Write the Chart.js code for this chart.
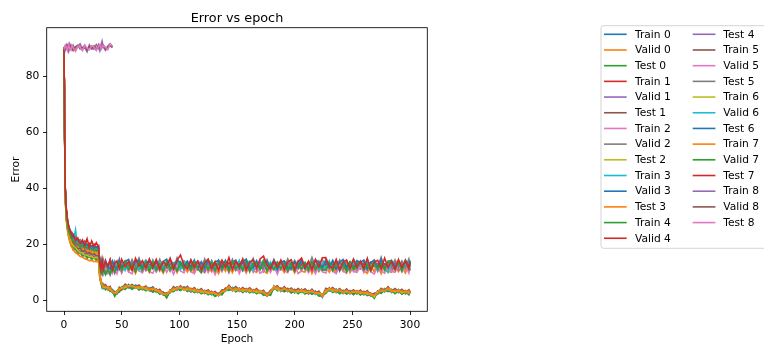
<!DOCTYPE html>
<html>
<head>
<meta charset="utf-8">
<script src="https://cdn.jsdelivr.net/npm/chart.js@4.4.1/dist/chart.umd.min.js"></script>
<style>
  html, body { margin: 0; padding: 0; background: #fff; }
  #chart { display: block; }
</style>
</head>
<body>
<canvas id="chart" width="764" height="348"></canvas>
<script>
const epochs = [0, 1, 2, 3, 4, 5, 6, 7, 8,
  10, 12, 14, 16, 18, 20, 22, 24, 26, 28, 30,
  31, 32, 33, 34,
  36, 38, 40, 42, 44, 46, 48, 50,
  53, 56, 59, 62, 65, 68, 71, 74, 77, 80, 83, 86, 89, 92, 95, 98, 101, 104, 107, 110,
  113, 116, 119, 122, 125, 128, 131, 134, 137, 140, 143, 146, 149, 152, 155, 158, 161, 164, 167, 170,
  173, 176, 179, 182, 185, 188, 191, 194, 197, 200, 203, 206, 209, 212, 215, 218, 221, 224, 227, 230,
  233, 236, 239, 242, 245, 248, 251, 254, 257, 260, 263, 266, 269, 272, 275, 278, 281, 284, 287, 290,
  293, 296, 299, 300];

const xTicks = [0, 50, 100, 150, 200, 250, 300];
const yTicks = [0, 20, 40, 60, 80];
const runNames = ['Train', 'Valid', 'Test'];
const colors = ['#1f77b4', '#ff7f0e', '#2ca02c', '#d62728', '#9467bd',
  '#8c564b', '#e377c2', '#7f7f7f', '#bcbd22', '#17becf'];

// ---- run 0 ----
const train0 = [90.1, 38.2, 30.1, 26.4, 24.3, 22.1, 21.2, 19.4, 20.1, 18.2, 18.9, 16.8, 17.6, 16.1, 17.0, 15.5, 16.4, 15.2, 16.0, 15.1,
  9.6, 6.0, 5.9, 4.3, 5.4, 4.0, 4.6, 2.7, 2.4, 3.5,
  3.2, 4.8, 3.9, 5.7, 4.4, 5.4, 3.8, 4.7, 4.9, 3.5,
  4.3, 2.9, 3.6, 1.9, 2.2, 2.7, 4.6, 3.6, 4.9, 3.7,
  4.5, 3.0, 4.2, 2.8, 3.8, 2.4, 3.4, 2.0, 2.7, 1.6,
  3.4, 3.2, 5.0, 3.4, 4.5, 3.2, 4.1, 3.0, 4.1, 2.8,
  3.8, 2.5, 3.1, 1.5, 3.2, 4.0, 4.8, 3.2, 4.5, 3.1,
  4.0, 2.7, 3.8, 2.9, 3.7, 2.3, 3.6, 2.1, 2.9, 1.1,
  3.9, 3.3, 4.2, 2.8, 3.8, 2.4, 3.7, 2.3, 3.4, 2.3,
  3.3, 2.0, 3.1, 1.5, 2.0, 2.2, 3.9, 3.0, 4.5, 2.8,
  3.8, 2.7, 3.6, 2.3, 3.4, 2.4];
const valid0 = [89.4, 39.5, 31.2, 27.6, 25.0, 23.8, 21.9, 22.8, 20.6, 21.3, 19.1, 20.2, 18.3, 19.4, 17.8, 18.9, 17.5, 18.6, 17.2, 18.0,
  12.1, 11.4, 10.6, 11.8, 10.9, 12.3, 10.4, 11.7, 12.6, 10.8,
  11.9, 13.2, 11.1, 12.4, 10.7, 11.6, 13.0, 11.3, 12.2, 10.9,
  12.7, 11.5, 13.4, 11.0, 12.1, 10.6, 12.9, 11.8, 12.4, 11.2,
  13.1, 10.8, 11.9, 12.5, 11.3, 12.8, 10.5, 12.0, 11.6, 13.3,
  11.4, 12.6, 10.9, 12.2, 11.7, 13.0, 11.1, 12.4, 10.7, 11.9,
  12.8, 11.3, 12.0, 10.6, 12.5, 11.8, 13.2, 11.0, 12.3, 11.5,
  12.9, 10.8, 12.1, 11.6, 13.1, 11.2, 12.4, 10.4, 11.9, 12.7,
  11.3, 12.5, 10.9, 12.8, 11.6, 12.2, 10.7, 12.9, 11.4, 12.0,
  13.0, 11.1, 12.3, 11.8, 10.6, 12.7, 11.5, 12.1, 10.9, 12.6,
  11.7, 12.4, 11.0, 12.9, 11.3, 12.0];
const test0 = [90.2, 40.1, 31.8, 28.0, 25.9, 24.2, 23.1, 21.7, 22.4, 20.3, 21.0, 19.2, 20.1, 18.6, 19.5, 18.2, 19.0, 17.9, 18.7, 18.1,
  11.2, 10.1, 9.6, 10.4, 9.8, 10.9, 10.2, 11.1, 10.5, 11.6,
  12.4, 11.1, 12.9, 11.7, 12.2, 10.8, 13.1, 12.0, 11.4, 12.7,
  11.3, 12.8, 11.9, 13.3, 11.5, 12.2, 10.9, 12.6, 11.8, 13.0,
  11.6, 12.3, 10.7, 12.9, 11.4, 12.1, 13.4, 11.2, 12.5, 11.0,
  12.6, 11.8, 13.2, 11.5, 12.0, 10.9, 12.7, 11.6, 13.1, 11.9,
  11.1, 12.4, 11.7, 13.0, 11.3, 12.6, 10.8, 12.2, 11.9, 13.3,
  12.0, 11.4, 12.8, 11.1, 12.3, 13.0, 11.6, 12.5, 10.9, 12.1,
  13.2, 11.7, 12.4, 11.0, 12.9, 11.5, 13.1, 11.8, 12.3, 10.8,
  12.2, 13.5, 11.3, 12.0, 12.8, 11.2, 12.6, 11.9, 13.3, 11.4,
  12.7, 11.1, 12.9, 11.6, 12.3, 14.2];

// ---- run 1 ----
const train1 = [89.6, 37.6, 29.4, 25.8, 23.5, 21.4, 20.5, 19.9, 18.6, 19.1, 17.2, 17.9, 16.3, 17.0, 15.6, 16.5, 15.0, 15.9, 14.7, 15.4,
  8.4, 7.0, 5.0, 5.6, 4.1, 4.9, 3.5, 3.8, 1.7, 3.3,
  4.4, 3.7, 5.4, 4.4, 5.3, 4.3, 5.1, 3.8, 4.7, 3.5,
  3.2, 4.1, 2.5, 3.0, 1.2, 3.8, 3.3, 4.8, 3.7, 4.8,
  3.4, 4.3, 3.0, 3.9, 2.6, 3.6, 2.2, 3.2, 1.6, 2.6,
  2.3, 4.4, 3.8, 4.6, 3.3, 4.4, 3.0, 4.2, 2.9, 3.9,
  2.6, 3.5, 2.0, 2.6, 2.0, 5.1, 3.6, 4.4, 3.3, 4.3,
  2.8, 3.9, 2.6, 4.0, 2.5, 3.5, 2.4, 3.3, 1.7, 2.2,
  2.7, 4.5, 3.0, 4.0, 2.6, 3.6, 2.5, 3.5, 2.2, 3.5,
  2.1, 3.2, 1.9, 2.6, 0.9, 3.4, 2.7, 4.2, 3.3, 4.0,
  2.6, 3.9, 2.4, 3.5, 2.2, 3.5];
const valid1 = [89.8, 39.9, 31.5, 27.2, 25.6, 23.1, 24.0, 21.6, 22.2, 20.1, 21.4, 19.0, 20.3, 18.5, 19.7, 18.1, 19.2, 17.8, 18.9, 17.6,
  10.8, 9.7, 10.3, 9.4, 10.6, 9.9, 11.2, 10.1, 10.7, 11.4,
  10.9, 12.1, 11.3, 12.6, 10.8, 11.9, 11.2, 12.4, 10.6, 11.8,
  12.3, 11.0, 11.7, 10.4, 12.5, 11.3, 12.0, 10.9, 11.6, 12.8,
  11.1, 12.2, 10.7, 11.9, 12.6, 11.0, 11.8, 10.5, 12.3, 11.4,
  12.0, 10.8, 12.4, 11.5, 10.9, 12.7, 11.2, 12.1, 11.6, 10.6,
  11.9, 12.5, 11.1, 12.2, 10.7, 11.8, 12.4, 11.0, 12.9, 11.3,
  10.9, 12.0, 11.5, 12.7, 11.2, 10.6, 12.3, 11.7, 12.0, 10.8,
  12.4, 11.3, 11.9, 12.8, 11.0, 12.1, 11.4, 10.7, 12.5, 11.6,
  11.2, 12.3, 10.5, 11.8, 12.6, 11.1, 12.0, 11.5, 10.9, 12.2,
  11.6, 10.8, 12.3, 11.4, 12.1, 11.7];
const test1 = [90.0, 40.6, 32.3, 28.5, 26.1, 24.7, 22.8, 23.3, 21.5, 21.9, 20.2, 21.0, 19.3, 20.4, 18.8, 19.9, 18.4, 19.6, 18.2, 19.0,
  13.0, 12.2, 11.5, 12.7, 11.9, 12.9, 11.4, 12.6, 13.3, 11.8,
  12.9, 11.6, 13.4, 12.1, 12.8, 11.3, 12.5, 13.6, 11.9, 12.7,
  12.0, 13.3, 11.7, 12.6, 13.0, 11.5, 12.8, 12.2, 13.5, 11.9,
  12.5, 13.1, 11.6, 12.9, 12.3, 13.4, 11.8, 12.4, 13.0, 12.1,
  13.2, 11.9, 12.6, 13.3, 11.7, 12.8, 12.1, 13.5, 11.8, 12.7,
  12.2, 13.0, 11.6, 12.5, 13.3, 11.9, 12.7, 12.0, 13.4, 12.3,
  11.8, 12.9, 12.4, 13.1, 11.6, 12.7, 13.2, 12.0, 12.6, 11.7,
  13.0, 12.3, 13.5, 11.9, 12.4, 12.9, 11.8, 13.2, 12.5, 12.1,
  12.8, 11.7, 13.1, 12.4, 12.9, 11.6, 13.3, 12.2, 12.7, 11.9,
  13.2, 12.5, 12.0, 13.1, 12.4, 12.8];

// ---- run 2 ----
const train2 = [90.4, 38.8, 30.5, 26.9, 24.0, 22.6, 20.9, 21.1, 19.2, 19.8, 17.7, 18.4, 16.6, 17.5, 16.2, 16.8, 15.6, 16.5, 15.3, 15.8,
  9.3, 6.3, 6.1, 4.6, 4.9, 3.7, 4.5, 3.0, 2.8, 2.3,
  4.3, 4.0, 5.3, 4.5, 5.4, 4.4, 5.0, 3.9, 4.8, 3.6,
  4.4, 3.1, 3.5, 2.1, 2.3, 2.8, 4.4, 3.7, 4.8, 3.8,
  4.6, 3.3, 4.1, 2.9, 3.7, 2.6, 3.3, 2.2, 2.7, 1.8,
  3.3, 3.4, 4.9, 3.6, 4.4, 3.3, 4.1, 3.2, 4.0, 3.0,
  3.7, 2.6, 3.1, 1.7, 3.0, 4.1, 4.7, 3.4, 4.4, 3.3,
  3.9, 2.9, 3.7, 3.0, 3.6, 2.5, 3.5, 2.3, 2.8, 1.3,
  3.8, 3.5, 4.1, 3.0, 3.7, 2.6, 3.6, 2.5, 3.3, 2.5,
  3.2, 2.2, 3.0, 1.7, 1.9, 2.4, 3.8, 3.2, 4.4, 3.0,
  3.7, 2.9, 3.5, 2.5, 3.3, 2.6];
const valid2 = [89.5, 40.3, 31.9, 28.3, 25.4, 24.5, 23.0, 22.1, 21.8, 21.1, 20.6, 19.8, 20.5, 19.1, 19.6, 18.7, 19.3, 18.3, 18.9, 18.5,
  13.4, 12.6, 13.9, 12.1, 13.2, 12.8, 14.0, 12.5, 13.1, 12.2,
  13.6, 12.4, 14.2, 12.9, 13.3, 12.0, 13.8, 12.7, 14.4, 12.3,
  13.1, 14.0, 12.5, 13.5, 12.2, 14.6, 12.8, 13.3, 12.1, 13.9,
  12.6, 13.7, 12.3, 14.1, 12.9, 13.4, 12.0, 13.8, 12.7, 13.2,
  14.3, 12.5, 13.6, 12.2, 13.9, 12.8, 14.1, 12.4, 13.3, 12.9,
  13.7, 12.1, 14.5, 12.6, 13.2, 12.9, 13.8, 12.3, 14.0, 12.7,
  13.3, 12.4, 14.2, 12.8, 13.6, 12.0, 13.9, 12.5, 13.1, 14.4,
  12.6, 13.5, 12.2, 14.0, 12.9, 13.4, 12.1, 13.7, 12.8, 14.2,
  12.4, 13.8, 12.7, 13.2, 14.5, 12.3, 13.6, 12.9, 13.1, 12.5,
  13.9, 12.6, 13.4, 12.2, 14.1, 13.0];
const test2 = [90.1, 39.2, 30.8, 27.4, 25.2, 23.2, 22.5, 20.9, 21.2, 19.7, 20.4, 18.7, 19.5, 18.1, 18.9, 17.7, 18.5, 17.4, 18.3, 17.6,
  12.3, 11.1, 11.8, 10.5, 12.4, 11.6, 12.9, 11.0, 12.2, 11.5,
  12.7, 11.3, 12.0, 13.1, 11.5, 12.6, 11.2, 12.3, 13.0, 11.7,
  12.4, 11.1, 12.9, 11.6, 13.2, 12.0, 11.4, 12.8, 11.9, 12.5,
  11.3, 12.6, 12.1, 13.0, 11.5, 12.4, 11.8, 12.9, 11.2, 12.2,
  12.8, 11.6, 12.3, 11.0, 12.7, 12.1, 13.1, 11.4, 12.5, 11.9,
  12.4, 11.2, 12.9, 11.7, 12.2, 13.0, 11.5, 12.6, 11.1, 12.3,
  11.9, 12.7, 11.3, 12.5, 11.8, 13.2, 12.1, 11.4, 12.8, 11.6,
  12.2, 11.5, 12.9, 12.0, 11.3, 12.6, 11.9, 13.1, 11.6, 12.4,
  11.8, 12.5, 11.2, 13.0, 11.7, 12.3, 11.4, 12.8, 12.1, 11.5,
  12.6, 11.9, 12.4, 11.3, 12.7, 12.0];

// ---- run 3 ----
const train3 = [89.2, 37.9, 30.3, 26.1, 24.8, 23.6, 21.5, 22.3, 20.8, 25.2, 18.6, 19.4, 17.1, 18.0, 16.4, 17.3, 15.9, 16.8, 15.5, 16.2,
  10.0, 6.1, 5.2, 5.9, 5.1, 3.8, 3.7, 3.9, 2.7, 2.3,
  3.5, 4.9, 5.2, 4.5, 4.4, 5.5, 5.0, 3.9, 3.8, 4.6,
  4.3, 3.2, 2.6, 2.9, 1.4, 3.1, 4.4, 4.6, 3.8, 4.7,
  4.4, 3.2, 3.3, 3.9, 2.7, 3.5, 3.3, 2.2, 2.0, 2.6,
  3.3, 3.5, 4.2, 4.6, 3.3, 4.3, 3.1, 3.4, 4.0, 3.0,
  3.6, 3.4, 2.2, 2.4, 2.3, 4.3, 4.7, 3.4, 4.2, 4.0,
  3.0, 3.7, 3.5, 2.9, 3.6, 3.3, 2.5, 3.2, 2.0, 1.4,
  3.8, 3.5, 3.2, 4.0, 2.8, 3.5, 2.6, 3.3, 3.2, 2.4,
  3.2, 2.3, 2.9, 1.6, 1.9, 3.1, 2.9, 4.2, 3.6, 3.8,
  2.8, 3.7, 3.3, 2.5, 3.2, 2.6];
const valid3 = [89.7, 40.0, 31.6, 27.9, 24.9, 24.0, 22.6, 23.0, 21.0, 21.6, 20.0, 20.7, 19.2, 20.0, 18.6, 19.4, 18.2, 19.0, 17.9, 18.6,
  12.9, 11.8, 13.5, 12.2, 11.6, 12.8, 13.3, 12.0, 12.7, 11.9,
  13.4, 12.3, 13.0, 11.9, 13.7, 12.5, 12.1, 13.2, 12.6, 13.8,
  12.2, 13.1, 12.7, 13.6, 11.8, 12.9, 13.4, 12.3, 13.0, 12.4,
  13.5, 12.1, 12.8, 13.3, 12.0, 13.7, 12.5, 11.9, 13.2, 12.6,
  12.3, 13.4, 12.0, 12.9, 13.6, 12.4, 13.1, 11.8, 12.7, 13.3,
  12.8, 12.1, 13.5, 12.6, 11.9, 13.2, 12.4, 13.8, 12.2, 12.9,
  13.1, 12.5, 11.8, 13.4, 12.7, 12.1, 13.6, 12.3, 13.0, 12.6,
  12.4, 13.3, 12.8, 11.9, 13.5, 12.2, 12.9, 13.4, 12.1, 12.7,
  13.2, 12.0, 12.6, 13.7, 12.3, 12.8, 11.9, 13.1, 12.5, 13.4,
  12.2, 13.0, 12.7, 13.3, 12.4, 12.8];
const test3 = [89.3, 38.9, 30.6, 26.7, 24.5, 22.9, 21.4, 21.9, 19.9, 20.2, 18.6, 19.0, 17.8, 18.3, 17.2, 17.8, 16.9, 17.5, 16.6, 17.2,
  12.2, 10.3, 12.6, 9.7, 11.9, 9.9, 12.5, 9.8, 12.0, 10.1,
  12.4, 9.8, 12.9, 10.3, 12.3, 9.6, 12.7, 10.4, 12.2, 10.0,
  12.8, 10.2, 12.1, 9.7, 12.5, 10.3, 13.0, 9.9, 12.2, 12.6,
  10.1, 12.3, 9.7, 12.7, 10.5, 10.0, 12.6, 10.2, 12.1, 9.6,
  12.5, 10.4, 12.9, 9.9, 12.2, 10.2, 12.4, 9.8, 12.8, 10.6,
  10.0, 12.6, 10.5, 9.7, 12.3, 12.7, 10.1, 12.0, 9.9, 12.5,
  12.1, 9.8, 12.6, 10.4, 10.1, 12.8, 9.6, 12.3, 10.2, 12.2,
  12.7, 10.0, 12.0, 9.8, 12.5, 10.3, 12.9, 9.9, 12.1, 10.2,
  12.4, 10.5, 9.7, 12.6, 10.1, 12.2, 9.5, 12.5, 10.4, 10.0,
  12.3, 10.2, 12.0, 9.8, 12.6, 10.5];

// ---- run 4 ----
const train4 = [89.9, 37.3, 29.0, 25.5, 22.9, 21.8, 19.8, 20.4, 18.1, 18.6, 16.5, 17.3, 15.6, 16.4, 15.0, 15.8, 14.6, 15.2, 14.3, 14.9,
  8.1, 6.6, 4.6, 5.2, 3.8, 4.5, 3.2, 3.5, 1.5, 2.9,
  3.0, 4.4, 4.0, 5.1, 3.9, 5.0, 3.7, 4.5, 3.4, 4.1,
  2.9, 3.6, 2.2, 2.7, 0.9, 3.3, 3.1, 4.3, 3.5, 4.3,
  3.2, 3.8, 2.8, 3.4, 2.4, 3.1, 2.0, 2.7, 1.4, 2.2,
  2.0, 3.9, 3.6, 4.1, 3.1, 3.9, 2.8, 3.8, 2.7, 3.5,
  2.4, 3.1, 1.8, 2.1, 1.8, 4.7, 3.4, 3.9, 3.1, 3.8,
  2.6, 3.4, 2.4, 3.5, 2.3, 3.0, 2.2, 2.8, 1.5, 1.7,
  2.5, 4.0, 2.8, 3.5, 2.4, 3.1, 2.3, 3.0, 2.0, 3.0,
  1.9, 2.7, 1.7, 2.1, 0.8, 2.9, 2.5, 3.7, 3.1, 3.5,
  2.4, 3.4, 2.2, 3.0, 2.0, 3.0];
const valid4 = [90.3, 41.0, 32.6, 28.8, 26.5, 25.1, 23.7, 24.1, 22.3, 22.6, 21.0, 21.6, 20.1, 21.2, 19.5, 20.4, 19.1, 20.0, 18.8, 19.6,
  12.8, 12.0, 13.4, 11.7, 12.9, 11.5, 13.1, 12.3, 11.8, 13.2,
  12.1, 13.3, 11.9, 12.7, 13.5, 11.6, 12.8, 12.2, 13.4, 11.9,
  12.6, 13.1, 12.0, 13.6, 11.8, 12.9, 12.3, 13.2, 11.7, 12.8,
  13.3, 11.9, 12.6, 12.1, 13.5, 12.4, 11.8, 13.0, 12.5, 11.7,
  12.9, 12.2, 13.4, 11.9, 12.7, 13.2, 12.0, 12.8, 13.5, 12.3,
  11.8, 13.1, 12.4, 12.9, 11.6, 13.3, 12.2, 12.7, 11.9, 13.0,
  12.5, 13.4, 11.8, 12.6, 13.1, 12.0, 12.9, 11.7, 13.3, 12.4,
  12.8, 11.9, 13.2, 12.3, 12.7, 13.5, 12.1, 12.6, 11.8, 13.1,
  12.0, 12.9, 13.4, 11.9, 12.5, 13.0, 12.2, 12.8, 11.7, 13.2,
  12.4, 13.0, 12.1, 12.9, 12.3, 12.7];
const test4 = [89.6, 39.7, 31.0, 27.5, 25.3, 23.5, 22.9, 21.3, 21.6, 20.5, 19.7, 20.0, 18.9, 19.2, 18.3, 18.8, 17.9, 18.4, 17.6, 18.1,
  11.9, 9.7, 9.1, 11.4, 9.3, 11.0, 9.0, 11.5, 9.6, 12.0,
  13.0, 10.3, 13.3, 10.9, 13.7, 10.6, 12.8, 10.1, 13.2, 11.0,
  13.6, 10.7, 12.9, 10.3, 13.4, 11.1, 13.1, 10.5, 13.7, 10.8,
  12.8, 10.6, 13.5, 10.9, 13.0, 10.2, 13.3, 11.1, 10.7, 13.4,
  10.4, 13.1, 11.0, 13.6, 10.7, 12.8, 10.5, 13.3, 11.2, 13.0,
  10.8, 13.5, 10.3, 12.9, 11.1, 13.2, 10.6, 13.6, 10.9, 12.8,
  13.1, 10.5, 13.4, 11.0, 12.9, 10.7, 13.7, 10.4, 13.2, 11.1,
  10.9, 13.0, 10.6, 13.5, 11.2, 12.8, 10.8, 13.2, 10.5, 13.4,
  12.9, 10.7, 13.6, 11.0, 13.1, 10.3, 13.3, 11.2, 13.0, 10.6,
  12.8, 10.9, 13.2, 11.1, 13.0, 10.8];

// ---- run 5 ----
const train5 = [90.3, 38.5, 30.9, 27.2, 24.6, 23.0, 21.8, 20.7, 20.9, 19.4, 18.3, 18.8, 17.4, 17.9, 16.7, 17.1, 16.3, 16.6, 15.9, 16.3,
  10.2, 6.6, 6.4, 4.9, 5.6, 4.2, 5.0, 3.1, 3.2, 2.7,
  4.7, 4.2, 5.8, 4.9, 5.7, 4.8, 5.5, 4.3, 5.1, 3.9,
  4.8, 3.4, 4.0, 2.4, 2.7, 3.1, 4.9, 4.1, 5.2, 4.1,
  5.0, 3.6, 4.6, 3.2, 4.2, 2.9, 3.8, 2.5, 3.2, 2.0,
  3.8, 3.7, 5.4, 3.9, 4.9, 3.7, 4.6, 3.6, 4.5, 3.3,
  4.2, 2.9, 3.6, 1.9, 3.6, 4.5, 5.2, 3.7, 4.9, 3.6,
  4.4, 3.2, 4.2, 3.3, 4.1, 2.8, 4.0, 2.6, 3.3, 1.5,
  4.3, 3.8, 4.6, 3.3, 4.2, 2.9, 4.1, 2.8, 3.8, 2.8,
  3.7, 2.5, 3.5, 1.9, 2.5, 2.7, 4.3, 3.5, 4.9, 3.3,
  4.2, 3.2, 4.0, 2.8, 3.8, 2.8];
const valid5 = [89.9, 39.4, 31.3, 27.7, 25.5, 24.4, 22.7, 22.5, 21.4, 20.9, 20.1, 19.6, 19.8, 18.8, 19.0, 18.4, 18.6, 17.9, 18.3, 17.7,
  12.6, 9.9, 12.3, 9.4, 12.5, 9.8, 12.0, 10.1, 12.7, 9.6,
  12.4, 9.8, 12.9, 10.2, 9.5, 12.7, 10.5, 9.9, 13.1, 10.3,
  9.7, 12.6, 10.4, 13.2, 10.0, 12.3, 9.3, 12.7, 10.5, 9.8,
  12.8, 10.2, 9.6, 12.5, 10.1, 13.0, 9.9, 12.2, 9.2, 12.4,
  10.4, 12.9, 9.8, 12.3, 12.7, 9.6, 12.6, 10.2, 12.8, 10.0,
  12.5, 9.7, 10.5, 13.0, 10.0, 12.3, 9.4, 12.6, 10.6, 9.9,
  12.4, 12.7, 9.6, 10.5, 12.9, 9.9, 12.3, 9.5, 12.5, 10.2,
  9.8, 12.6, 10.4, 9.6, 12.7, 10.5, 9.7, 12.8, 10.3, 10.0,
  12.3, 9.9, 13.0, 10.2, 9.4, 12.5, 10.6, 9.7, 12.7, 10.4,
  10.0, 12.4, 10.1, 12.6, 9.8, 12.2];
const test5 = [90.2, 40.4, 32.0, 28.2, 25.8, 24.8, 23.4, 22.6, 22.9, 21.4, 20.8, 20.3, 19.6, 20.0, 19.1, 19.3, 18.7, 19.0, 18.5, 18.8,
  12.0, 14.3, 11.4, 14.7, 12.2, 11.6, 14.5, 11.3, 14.0, 12.1,
  14.9, 11.7, 13.9, 11.5, 14.6, 12.0, 15.1, 11.6, 13.8, 11.8,
  14.4, 11.4, 14.7, 12.1, 11.7, 14.3, 11.3, 15.2, 11.9, 14.1,
  11.6, 14.5, 12.0, 14.0, 11.4, 14.8, 11.8, 14.2, 11.2, 14.4,
  12.1, 14.3, 11.5, 14.7, 11.9, 13.9, 11.6, 14.5, 12.0, 15.0,
  11.7, 14.1, 12.1, 14.6, 11.3, 14.3, 12.0, 14.0, 11.5, 14.8,
  11.9, 14.2, 11.4, 14.5, 12.1, 11.7, 15.3, 11.8, 14.1, 11.6,
  14.7, 11.5, 13.9, 11.9, 14.4, 11.3, 14.3, 12.0, 14.8, 11.7,
  14.0, 11.8, 14.6, 11.6, 14.2, 12.1, 15.4, 11.4, 13.9, 11.9,
  14.5, 12.0, 14.1, 11.7, 14.8, 12.1];

// ---- run 6 ----
const train6 = [89.7, 38.0, 29.8, 26.6, 23.8, 22.3, 21.1, 20.0, 19.5, 18.9, 17.8, 17.1, 16.9, 16.2, 16.1, 15.6, 15.8, 15.1, 15.4, 14.9,
  8.7, 6.9, 5.8, 4.7, 4.5, 4.7, 3.8, 3.1, 2.6, 3.4,
  3.9, 4.6, 4.5, 5.3, 5.2, 4.6, 4.4, 4.9, 4.0, 3.8,
  4.2, 3.8, 2.8, 2.3, 2.1, 3.5, 3.6, 4.4, 4.6, 3.8,
  3.8, 4.0, 3.3, 3.6, 2.9, 3.3, 2.5, 2.9, 2.4, 1.8,
  3.1, 3.5, 4.8, 3.7, 3.6, 4.1, 3.3, 3.9, 3.2, 3.7,
  2.9, 3.3, 2.9, 1.8, 2.9, 4.9, 3.9, 3.6, 4.2, 3.5,
  3.7, 3.1, 3.0, 3.7, 2.8, 3.1, 3.3, 2.5, 2.6, 1.9,
  3.0, 4.2, 3.3, 3.7, 3.5, 2.8, 3.3, 2.7, 3.0, 3.2,
  2.5, 2.9, 2.2, 2.3, 1.3, 3.1, 3.5, 3.4, 4.1, 3.6,
  3.0, 3.6, 2.7, 3.2, 2.6, 3.2];
const valid6 = [89.4, 39.6, 31.4, 27.3, 26.0, 25.5, 24.3, 23.4, 23.7, 22.0, 21.2, 21.5, 20.0, 20.6, 19.2, 19.8, 18.8, 19.4, 18.4, 18.9,
  13.4, 10.9, 13.9, 10.6, 13.7, 11.1, 12.5, 14.1, 10.8, 13.5,
  11.2, 14.0, 10.7, 13.6, 11.4, 14.3, 10.9, 13.3, 14.0, 10.8,
  13.8, 10.5, 13.5, 11.3, 14.2, 10.9, 13.4, 14.0, 11.0, 13.3,
  14.0, 10.9, 13.2, 13.8, 10.6, 13.6, 11.2, 14.1, 10.8, 13.7,
  11.4, 13.9, 10.8, 13.5, 11.3, 14.3, 11.0, 13.4, 14.0, 10.9,
  13.6, 11.2, 14.2, 10.7, 13.7, 11.4, 11.0, 13.9, 11.6, 10.8,
  13.8, 10.6, 13.5, 14.0, 10.9, 13.3, 11.1, 14.2, 10.8, 13.4,
  11.3, 14.1, 11.0, 13.6, 10.4, 13.7, 11.5, 10.7, 13.9, 11.2,
  13.5, 10.9, 14.0, 11.1, 13.4, 10.8, 13.9, 11.4, 9.9, 13.7,
  11.2, 13.8, 10.6, 13.5, 11.3, 14.0];
const test6 = [90.0, 40.2, 31.7, 28.1, 25.7, 24.9, 23.5, 22.4, 23.0, 21.8, 21.4, 20.5, 20.6, 19.5, 20.0, 19.0, 19.4, 18.6, 19.1, 18.5,
  13.9, 11.5, 13.7, 11.1, 14.3, 11.8, 11.2, 14.0, 12.0, 11.0,
  14.2, 11.6, 13.9, 14.6, 11.3, 13.7, 14.4, 11.4, 13.6, 14.0,
  11.5, 14.3, 11.2, 13.9, 14.7, 11.7, 11.4, 14.2, 13.7, 11.3,
  14.0, 11.8, 14.4, 11.4, 13.8, 11.6, 14.5, 11.2, 13.7, 14.3,
  11.7, 14.1, 11.1, 13.7, 14.4, 11.5, 13.9, 14.7, 11.4, 11.8,
  14.2, 11.3, 13.6, 14.0, 11.6, 14.5, 11.1, 13.7, 14.1, 11.7,
  11.4, 14.0, 11.8, 14.4, 11.5, 13.8, 11.2, 14.5, 13.6, 11.6,
  14.0, 11.7, 14.3, 11.1, 13.7, 14.6, 11.6, 13.8, 11.3, 14.1,
  13.6, 14.4, 11.2, 13.7, 14.2, 11.6, 14.5, 11.1, 13.8, 14.3,
  11.7, 14.0, 11.4, 14.4, 11.8, 14.2];

// ---- run 7 ----
const train7 = [90.0, 37.1, 28.8, 25.1, 22.6, 21.0, 19.6, 18.8, 18.1, 17.0, 16.6, 15.7, 15.5, 14.9, 14.6, 14.2, 14.3, 13.8, 14.0, 13.6,
  9.1, 6.2, 5.9, 4.8, 5.1, 4.1, 4.5, 3.0, 2.6, 2.7,
  4.3, 4.1, 5.3, 4.9, 5.3, 4.7, 5.0, 4.2, 4.7, 3.8,
  4.3, 3.3, 3.5, 2.3, 2.1, 3.0, 4.4, 4.0, 4.8, 4.0,
  4.5, 3.5, 4.1, 3.1, 3.7, 2.8, 3.3, 2.4, 2.7, 1.9,
  3.3, 3.6, 4.9, 3.8, 4.4, 3.6, 4.1, 3.5, 4.0, 3.2,
  3.7, 2.8, 3.1, 1.8, 3.1, 4.4, 4.7, 3.6, 4.4, 3.5,
  3.9, 3.1, 3.7, 3.2, 3.6, 2.7, 3.5, 2.5, 2.8, 1.4,
  3.8, 3.7, 4.1, 3.2, 3.7, 2.8, 3.6, 2.7, 3.3, 2.7,
  3.2, 2.4, 3.0, 1.8, 2.0, 2.6, 3.8, 3.4, 4.4, 3.2,
  3.7, 3.1, 3.5, 2.7, 3.3, 2.7];
const valid7 = [89.8, 39.3, 30.9, 27.0, 24.7, 23.9, 22.2, 22.0, 21.3, 20.6, 19.9, 19.4, 19.6, 18.7, 18.9, 18.2, 18.5, 17.8, 18.1, 17.5,
  12.6, 10.0, 9.4, 11.5, 9.2, 10.9, 9.5, 11.9, 10.2, 12.3,
  13.2, 10.6, 13.7, 11.0, 13.0, 10.2, 13.5, 10.8, 13.3, 10.4,
  13.6, 10.9, 13.0, 10.3, 13.8, 11.1, 12.9, 10.6, 13.4, 11.2,
  13.0, 10.7, 13.7, 11.3, 9.9, 13.3, 10.9, 13.6, 10.5, 13.2,
  10.9, 13.4, 10.4, 13.8, 11.2, 13.1, 10.7, 13.5, 10.2, 13.0,
  13.3, 11.0, 13.9, 10.6, 12.9, 10.9, 13.6, 11.3, 13.2, 10.5,
  13.5, 10.4, 13.1, 11.2, 13.4, 10.7, 13.7, 11.0, 13.0, 10.8,
  10.9, 13.3, 10.6, 13.6, 10.8, 13.2, 10.2, 13.5, 11.1, 13.1,
  13.4, 10.9, 12.9, 10.5, 13.6, 11.2, 13.2, 10.8, 14.0, 13.5,
  10.9, 13.8, 10.6, 14.1, 11.2, 13.2];
const test7 = [90.1, 41.2, 32.8, 29.0, 26.8, 25.4, 24.6, 23.2, 23.5, 21.4, 22.3, 20.4, 21.6, 19.6, 22.0, 18.9, 21.2, 19.3, 20.6, 18.8,
  13.6, 11.2, 14.4, 11.0, 13.9, 12.0, 14.6, 10.9, 13.3, 14.1,
  11.5, 14.7, 12.1, 13.9, 10.8, 15.0, 12.3, 14.2, 11.6, 14.8,
  11.9, 14.6, 11.0, 13.8, 12.4, 15.1, 11.3, 14.3, 16.2, 12.6,
  11.2, 14.4, 12.0, 14.0, 10.9, 13.5, 14.7, 11.4, 13.9, 10.8,
  14.3, 11.8, 15.3, 11.1, 14.0, 12.2, 14.9, 10.7, 13.6, 14.5,
  11.5, 14.8, 15.8, 12.6, 11.2, 14.1, 11.9, 14.4, 10.9, 13.7,
  14.5, 11.1, 13.8, 15.1, 11.6, 14.0, 10.8, 14.6, 11.9, 15.2,
  15.3, 12.2, 11.6, 14.7, 10.9, 13.8, 14.4, 11.3, 14.6, 11.7,
  14.0, 11.4, 15.0, 10.8, 13.7, 14.3, 11.2, 15.1, 11.8, 14.0,
  11.1, 14.6, 11.7, 14.2, 11.5, 13.6];

// ---- run 8 (stops at epoch 42) ----
const train8 = [90.6, 89.4, 91.2, 90.1, 88.9, 91.5, 90.3, 89.6, 91.0, 89.2, 90.8, 91.6, 89.5, 90.4,
  88.8, 91.3, 90.0, 89.7, 91.4, 90.2, 89.1, 91.1, 92.6, 90.5, 89.3, 90.9, 91.7, 90.6];
const valid8 = [90.2, 90.8, 89.9, 91.0, 89.5, 90.4, 91.1, 90.0, 89.3, 90.6, 91.2, 89.8, 90.3, 91.0,
  89.4, 90.7, 89.9, 90.9, 89.6, 91.3, 90.1, 89.7, 90.8, 91.2, 89.8, 90.5, 91.0, 90.3];
const test8 = [89.8, 91.0, 90.4, 89.3, 91.3, 90.0, 89.4, 91.1, 90.2, 89.0, 90.9, 90.3, 89.2, 91.2,
  90.1, 89.5, 91.0, 90.5, 89.3, 90.8, 91.4, 89.9, 90.2, 91.1, 90.4, 89.6, 91.5, 90.8];

const runs = [
  [train0, valid0, test0], [train1, valid1, test1], [train2, valid2, test2],
  [train3, valid3, test3], [train4, valid4, test4], [train5, valid5, test5],
  [train6, valid6, test6], [train7, valid7, test7], [train8, valid8, test8]
];

const FONT = 'DejaVu Sans';

const datasets = [];
runs.forEach((run, r) => {
  run.forEach((values, k) => {
    const n = datasets.length;
    datasets.push({
      label: `${runNames[k]} ${r}`,
      data: values.map((v, i) => ({x: epochs[i], y: v})),
      borderColor: colors[n % colors.length],
      backgroundColor: colors[n % colors.length],
      borderWidth: 1.6,
      pointRadius: 0,
      fill: false,
      tension: 0,
      order: -n // later series are painted on top, like matplotlib
    });
  });
});

// title, axis labels, frame and the two-column legend, matplotlib style
const decorations = {
  id: 'decorations',
  afterDraw(chart) {
    const {ctx, chartArea: a} = chart;
    ctx.save();
    ctx.strokeStyle = '#000';
    ctx.lineWidth = 0.85;
    ctx.strokeRect(a.left, a.top, a.right - a.left, a.bottom - a.top);

    ctx.fillStyle = '#000';
    ctx.textAlign = 'center';
    ctx.textBaseline = 'alphabetic';
    ctx.font = `12.8px "${FONT}"`;
    ctx.fillText('Error vs epoch', (a.left + a.right) / 2, 21.6);
    ctx.font = `10.67px "${FONT}"`;
    ctx.fillText('Epoch', (a.left + a.right) / 2, 341.8);
    ctx.save();
    ctx.translate(19, (a.top + a.bottom) / 2);
    ctx.rotate(-Math.PI / 2);
    ctx.fillText('Error', 0, 0);
    ctx.restore();

    // legend box
    const bx = 601, by = 25.7, bw = 175, bh = 222.6, rad = 2.5;
    ctx.beginPath();
    ctx.moveTo(bx + rad, by);
    ctx.lineTo(bx + bw - rad, by);
    ctx.arcTo(bx + bw, by, bx + bw, by + rad, rad);
    ctx.lineTo(bx + bw, by + bh - rad);
    ctx.arcTo(bx + bw, by + bh, bx + bw - rad, by + bh, rad);
    ctx.lineTo(bx + rad, by + bh);
    ctx.arcTo(bx, by + bh, bx, by + bh - rad, rad);
    ctx.lineTo(bx, by + rad);
    ctx.arcTo(bx, by, bx + rad, by, rad);
    ctx.closePath();
    ctx.fillStyle = 'rgba(255,255,255,0.8)';
    ctx.fill();
    ctx.strokeStyle = '#cccccc';
    ctx.lineWidth = 0.85;
    ctx.stroke();

    const rowsPerCol = 14;
    const rowH = 15.69;
    const cols = [{line: 604, text: 635}, {line: 692.7, text: 723.3}];
    ctx.textAlign = 'left';
    ctx.textBaseline = 'middle';
    ctx.font = `10.67px "${FONT}"`;
    chart.data.datasets.forEach((ds, i) => {
      const c = cols[Math.floor(i / rowsPerCol)];
      const y = 34.3 + (i % rowsPerCol) * rowH;
      ctx.strokeStyle = ds.borderColor;
      ctx.lineWidth = 1.6;
      ctx.beginPath();
      ctx.moveTo(c.line, y);
      ctx.lineTo(c.line + 22.7, y);
      ctx.stroke();
      ctx.fillStyle = '#000';
      ctx.fillText(ds.label, c.text, y + 0.5);
    });
    ctx.restore();
  }
};

new Chart(document.getElementById('chart'), {
  type: 'line',
  data: {datasets},
  options: {
    responsive: false,
    animation: false,
    devicePixelRatio: 1,
    layout: {padding: {left: 0, top: 27.7, right: 336.7, bottom: 0}},
    plugins: {legend: {display: false}, title: {display: false}, tooltip: {enabled: false}},
    scales: {
      x: {
        type: 'linear',
        min: -15,
        max: 315,
        afterFit: (scale) => { scale.height = 36.7; },
        afterBuildTicks: (scale) => { scale.ticks = xTicks.map(value => ({value})); },
        grid: {drawOnChartArea: false, drawTicks: true, tickLength: 3.7, tickWidth: 0.85, tickColor: '#000'},
        border: {display: false},
        ticks: {font: {family: FONT, size: 10.67}, color: '#000', padding: 3.7, maxRotation: 0, autoSkip: false}
      },
      y: {
        type: 'linear',
        min: -3.9,
        max: 97.4,
        afterFit: (scale) => { scale.width = 46.7; },
        afterBuildTicks: (scale) => { scale.ticks = yTicks.map(value => ({value})); },
        grid: {drawOnChartArea: false, drawTicks: true, tickLength: 3.7, tickWidth: 0.85, tickColor: '#000'},
        border: {display: false},
        ticks: {font: {family: FONT, size: 10.67}, color: '#000', padding: 3.7, autoSkip: false}
      }
    }
  },
  plugins: [decorations]
});
</script>
</body>
</html>
